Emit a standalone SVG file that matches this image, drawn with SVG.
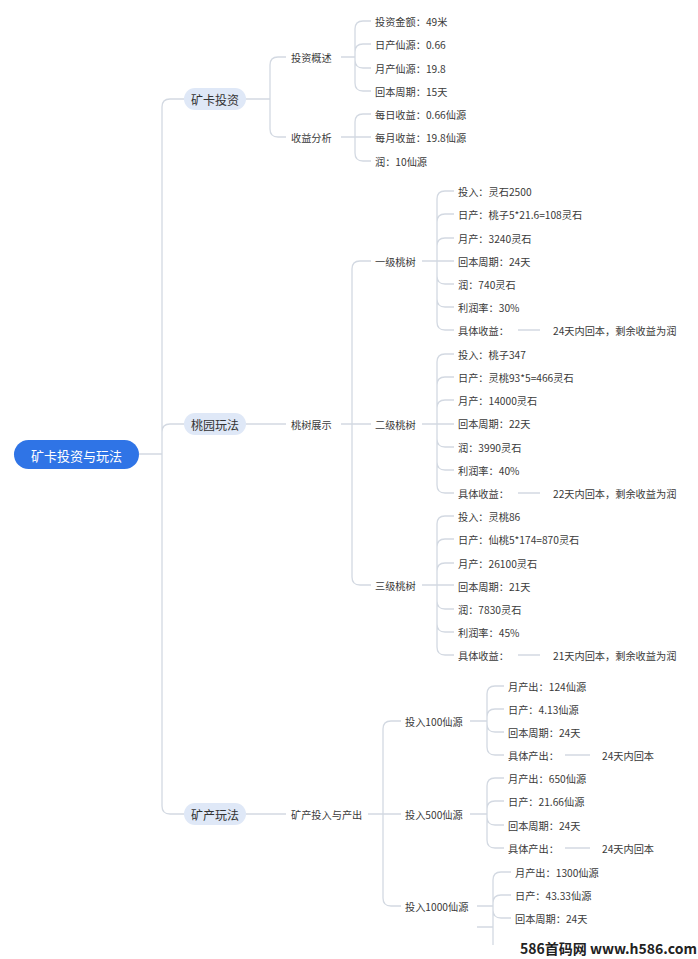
<svg xmlns="http://www.w3.org/2000/svg" width="698" height="959" viewBox="0 0 698 959">
<style>
.c{fill:none;stroke:#d3d9e2;stroke-width:1.3}
.t{font-family:"Noto Sans CJK SC","Liberation Sans",sans-serif;font-size:10.2px;fill:#3a3a3a;dominant-baseline:central}
.l1{font-family:"Noto Sans CJK SC",sans-serif;font-size:12px;fill:#333;text-anchor:middle;dominant-baseline:central}
.p{fill:#dfe8f7}
</style>
<rect width="698" height="959" fill="#fff"/>
<g id="connectors">
<path class="c" d="M139 454H162M162 454V107Q162 99 170 99H184M162 454V432Q162 424 170 424H184M162 454V806Q162 814 170 814H184"/>
<path class="c" d="M246 99H270M270 99V65Q270 57 278 57H286M270 99V129Q270 137 278 137H286"/>
<path class="c" d="M341 57H355M355 57V29Q355 21 363 21H371M355 57V52Q355 44 363 44H371M355 57V60Q355 68 363 68H371M355 57V83Q355 91 363 91H371"/>
<path class="c" d="M341 137H355M355 137V122Q355 114 363 114H371M355 137H371M355 137V153Q355 161 363 161H371"/>
<path class="c" d="M246 424H286M341 424H352M352 424V269Q352 261 360 261H371M352 424H371M352 424V577Q352 585 360 585H371"/>
<path class="c" d="M422 261H437M437 261V199Q437 191 445 191H454M437 261V222Q437 214 445 214H454M437 261V246Q437 238 445 238H454M437 261H454M437 261V276Q437 284 445 284H454M437 261V299Q437 307 445 307H454M437 261V322Q437 330 445 330H454M518 330H540"/>
<path class="c" d="M422 424H437M437 424V362Q437 354 445 354H454M437 424V385Q437 377 445 377H454M437 424V408Q437 400 445 400H454M437 424H454M437 424V439Q437 447 445 447H454M437 424V462Q437 470 445 470H454M437 424V485Q437 493 445 493H454M518 493H540"/>
<path class="c" d="M422 585H437M437 585V524Q437 516 445 516H454M437 585V547Q437 539 445 539H454M437 585V571Q437 563 445 563H454M437 585H454M437 585V601Q437 609 445 609H454M437 585V624Q437 632 445 632H454M437 585V647Q437 655 445 655H454M518 655H540"/>
<path class="c" d="M246 814H286M368 814H383M383 814V729Q383 721 391 721H401M383 814H401M383 814V898Q383 906 391 906H401"/>
<path class="c" d="M470 721H487M487 721V694Q487 686 495 686H504M487 721V717Q487 709 495 709H504M487 721V724Q487 732 495 732H504M487 721V747Q487 755 495 755H504M565 755H590"/>
<path class="c" d="M470 814H487M487 814V786Q487 778 495 778H504M487 814V809Q487 801 495 801H504M487 814V817Q487 825 495 825H504M487 814V840Q487 848 495 848H504M565 848H590"/>
<path class="c" d="M477 906H493M493 906V880Q493 872 501 872H511M493 906V903Q493 895 501 895H511M493 906V910Q493 918 501 918H511M477 927H493M493 906V945"/>
</g>
<g id="root"><rect x="14" y="440" width="125" height="29" rx="14.5" fill="#2f74e6"/><text x="76.5" y="455" class="l1" style="fill:#fff;font-size:13px">矿卡投资与玩法</text></g>
<g id="n1"><rect x="184" y="88" width="62" height="22" rx="11" class="p"/><text x="215" y="99" class="l1">矿卡投资</text></g>
<g id="n2"><rect x="184" y="413" width="62" height="22" rx="11" class="p"/><text x="215" y="424" class="l1">桃园玩法</text></g>
<g id="n3"><rect x="184" y="803" width="62" height="22" rx="11" class="p"/><text x="215" y="814" class="l1">矿产玩法</text></g>
<g id="g1">
<text class="t" x="291" y="57">投资概述</text>
<text class="t" x="375" y="21">投资金额：49米</text>
<text class="t" x="375" y="44">日产仙源：0.66</text>
<text class="t" x="375" y="68">月产仙源：19.8</text>
<text class="t" x="375" y="91">回本周期：15天</text>
<text class="t" x="291" y="137">收益分析</text>
<text class="t" x="375" y="114">每日收益：0.66仙源</text>
<text class="t" x="375" y="137">每月收益：19.8仙源</text>
<text class="t" x="375" y="161">润：10仙源</text>
</g>
<g id="g2">
<text class="t" x="291" y="424">桃树展示</text>
<text class="t" x="375" y="261">一级桃树</text>
<text class="t" x="458" y="191">投入：灵石2500</text>
<text class="t" x="458" y="214">日产：桃子5*21.6=108灵石</text>
<text class="t" x="458" y="238">月产：3240灵石</text>
<text class="t" x="458" y="261">回本周期：24天</text>
<text class="t" x="458" y="284">润：740灵石</text>
<text class="t" x="458" y="307">利润率：30%</text>
<text class="t" x="458" y="330">具体收益：</text>
<text class="t" x="553" y="330">24天内回本，剩余收益为润</text>
<text class="t" x="375" y="424">二级桃树</text>
<text class="t" x="458" y="354">投入：桃子347</text>
<text class="t" x="458" y="377">日产：灵桃93*5=466灵石</text>
<text class="t" x="458" y="400">月产：14000灵石</text>
<text class="t" x="458" y="423">回本周期：22天</text>
<text class="t" x="458" y="447">润：3990灵石</text>
<text class="t" x="458" y="470">利润率：40%</text>
<text class="t" x="458" y="493">具体收益：</text>
<text class="t" x="553" y="493">22天内回本，剩余收益为润</text>
<text class="t" x="375" y="585">三级桃树</text>
<text class="t" x="458" y="516">投入：灵桃86</text>
<text class="t" x="458" y="539">日产：仙桃5*174=870灵石</text>
<text class="t" x="458" y="563">月产：26100灵石</text>
<text class="t" x="458" y="586">回本周期：21天</text>
<text class="t" x="458" y="609">润：7830灵石</text>
<text class="t" x="458" y="632">利润率：45%</text>
<text class="t" x="458" y="655">具体收益：</text>
<text class="t" x="553" y="655">21天内回本，剩余收益为润</text>
</g>
<g id="g3">
<text class="t" x="291" y="814">矿产投入与产出</text>
<text class="t" x="405" y="721">投入100仙源</text>
<text class="t" x="508" y="686">月产出：124仙源</text>
<text class="t" x="508" y="709">日产：4.13仙源</text>
<text class="t" x="508" y="732">回本周期：24天</text>
<text class="t" x="508" y="755">具体产出：</text>
<text class="t" x="602" y="755">24天内回本</text>
<text class="t" x="405" y="814">投入500仙源</text>
<text class="t" x="508" y="778">月产出：650仙源</text>
<text class="t" x="508" y="801">日产：21.66仙源</text>
<text class="t" x="508" y="825">回本周期：24天</text>
<text class="t" x="508" y="848">具体产出：</text>
<text class="t" x="602" y="848">24天内回本</text>
<text class="t" x="405" y="906">投入1000仙源</text>
<text class="t" x="515" y="872">月产出：1300仙源</text>
<text class="t" x="515" y="895">日产：43.33仙源</text>
<text class="t" x="515" y="918">回本周期：24天</text>
</g>
<text x="520" y="948" style="font-family:'Noto Sans CJK SC','DejaVu Sans',sans-serif;font-size:14px;font-weight:bold;fill:#222;dominant-baseline:central">586首码网 www.h586.com</text>
</svg>
